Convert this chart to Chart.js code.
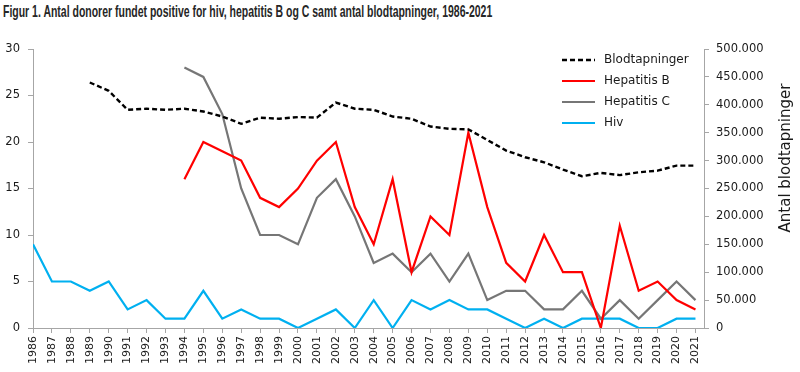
<!DOCTYPE html>
<html>
<head>
<meta charset="utf-8">
<script src="https://cdn.jsdelivr.net/npm/chart.js@4/dist/chart.umd.min.js"></script>
<style>
  body { margin: 0; background: #fff; }
  #wrap { position: relative; width: 800px; height: 372px; }
  #title { position: absolute; left: 3px; top: 3px; white-space: nowrap;
           font: bold 17px "Liberation Sans", Arial, sans-serif; line-height: 17px;
           color: #262626; transform-origin: 0 0; }
  canvas { position: absolute; left: 0; top: 0; }
</style>
</head>
<body>
<div id="wrap">
  <div id="title">Figur 1. Antal donorer fundet positive for hiv, hepatitis B og C samt antal blodtapninger, 1986-2021</div>
  <canvas id="myChart" width="800" height="372"></canvas>
</div>
<script>
// categories
var years = [1986, 1987, 1988, 1989, 1990, 1991, 1992, 1993, 1994, 1995, 1996, 1997,
             1998, 1999, 2000, 2001, 2002, 2003, 2004, 2005, 2006, 2007, 2008, 2009,
             2010, 2011, 2012, 2013, 2014, 2015, 2016, 2017, 2018, 2019, 2020, 2021];

// series values (left axis = number of donors, right axis = blood donations)
var hiv = [9, 5, 5, 4, 5, 2, 3, 1, 1, 4, 1, 2,
           1, 1, 0, 1, 2, 0, 3, 0, 3, 2, 3, 2,
           2, 1, 0, 1, 0, 1, 1, 1, 0, 0, 1, 1];
var hepB = [null, null, null, null, null, null, null, null, 16, 20, 19, 18,
            14, 13, 15, 18, 20, 13, 9, 16, 6, 12, 10, 21,
            13, 7, 5, 10, 6, 6, 0, 11, 4, 5, 3, 2];
var hepC = [null, null, null, null, null, null, null, null, 28, 27, 23, 15,
            10, 10, 9, 14, 16, 12, 7, 8, 6, 8, 5, 8,
            3, 4, 4, 2, 2, 4, 1, 3, 1, 3, 5, 3];
var blod = [null, null, null, 440000, 425000, 391000, 393000, 391000, 393000, 388000, 379000, 366000,
            377000, 375000, 378000, 377000, 404000, 393000, 391000, 379000, 375000, 361000, 357000, 356000,
            337000, 318000, 306000, 297000, 284000, 272000, 278000, 274000, 279000, 282000, 291000, 291000];

// tick labels
var leftTicks = [0, 5, 10, 15, 20, 25, 30];
var rightTicks = [0, 50000, 100000, 150000, 200000, 250000, 300000, 350000, 400000, 450000, 500000];

function pts(arr) {
    return years.map(function(y, i) { return { x: y, y: arr[i] }; });
}
function dk(v) {
    return String(v).replace(/\B(?=(\d{3})+(?!\d))/g, '.');
}

// squeeze the title into the width the figure uses
var t = document.getElementById('title');
t.style.transform = 'scaleX(' + (489 / t.scrollWidth) + ')';

var axisGrey = '#a6a6a6';
var tickFont = { family: 'DejaVu Sans', size: 11 };

// legend drawn inside the plot, top right
var innerLegend = {
    id: 'innerLegend',
    afterDraw: function(chart) {
        var ctx = chart.ctx;
        var x0 = 562, y0 = 60;
        ctx.save();
        ctx.font = '12px "DejaVu Sans"';
        ctx.textBaseline = 'middle';
        chart.data.datasets.forEach(function(ds, i) {
            var y = y0 + i * 21;
            ctx.beginPath();
            ctx.setLineDash(ds.borderDash || []);
            ctx.strokeStyle = ds.borderColor;
            ctx.lineWidth = ds.borderWidth;
            ctx.moveTo(x0, y);
            ctx.lineTo(x0 + 33, y);
            ctx.stroke();
            ctx.setLineDash([]);
            ctx.fillStyle = '#1a1a1a';
            ctx.fillText(ds.label, x0 + 42, y);
        });
        // right axis title
        ctx.translate(786, 158);
        ctx.rotate(-Math.PI / 2);
        ctx.textAlign = 'center';
        ctx.font = '15px "DejaVu Sans"';
        ctx.fillStyle = '#1a1a1a';
        ctx.fillText('Antal blodtapninger', 0, 0);
        ctx.restore();
    }
};

var ctx = document.getElementById('myChart').getContext('2d');
var chart = new Chart(ctx, {
    type: 'line',
    data: {
        datasets: [{
            label: 'Blodtapninger',
            data: pts(blod),
            yAxisID: 'y2',
            borderColor: '#000000',
            borderDash: [5, 3],
            borderWidth: 2.4
        }, {
            label: 'Hepatitis B',
            data: pts(hepB),
            yAxisID: 'y',
            borderColor: '#ff0000',
            borderWidth: 2.2
        }, {
            label: 'Hepatitis C',
            data: pts(hepC),
            yAxisID: 'y',
            borderColor: '#767676',
            borderWidth: 2.2
        }, {
            label: 'Hiv',
            data: pts(hiv),
            yAxisID: 'y',
            borderColor: '#00b0f0',
            borderWidth: 2.2
        }]
    },
    options: {
        responsive: false,
        animation: false,
        spanGaps: false,
        elements: { point: { radius: 0 }, line: { tension: 0, borderCapStyle: 'butt' } },
        layout: { padding: { top: 49, left: 0, right: 0, bottom: 0 } },
        plugins: { legend: { display: false }, title: { display: false }, tooltip: { enabled: false } },
        scales: {
            x: {
                type: 'linear',
                min: 1986,
                max: 2021.45,
                afterBuildTicks: function(s) { s.ticks = years.map(function(y) { return { value: y }; }); },
                afterFit: function(s) { s.height = 44; },
                ticks: {
                    autoSkip: false, minRotation: 90, maxRotation: 90,
                    font: tickFont, color: '#1a1a1a', padding: 3,
                    callback: function(v) { return String(v); }
                },
                grid: { drawOnChartArea: false, drawTicks: true, tickLength: 5, color: axisGrey },
                border: { color: axisGrey, width: 1 }
            },
            y: {
                position: 'left',
                min: 0,
                max: 30,
                afterBuildTicks: function(s) { s.ticks = leftTicks.map(function(v) { return { value: v }; }); },
                afterFit: function(s) { s.width = 33; },
                ticks: { font: { family: 'DejaVu Sans', size: 11.5 }, color: '#1a1a1a', padding: 8 },
                grid: { drawOnChartArea: false, drawTicks: true, tickLength: 5, color: axisGrey },
                border: { color: axisGrey, width: 1 }
            },
            y2: {
                position: 'right',
                min: 0,
                max: 500000,
                afterBuildTicks: function(s) { s.ticks = rightTicks.map(function(v) { return { value: v }; }); },
                afterFit: function(s) { s.width = 96; },
                ticks: {
                    font: { family: 'DejaVu Sans', size: 11.5 }, color: '#1a1a1a', padding: 7,
                    callback: function(v) { return dk(v); }
                },
                grid: { drawOnChartArea: false, drawTicks: true, tickLength: 5, color: axisGrey },
                border: { color: axisGrey, width: 1 }
            }
        }
    },
    plugins: [innerLegend]
});
</script>
</body>
</html>
